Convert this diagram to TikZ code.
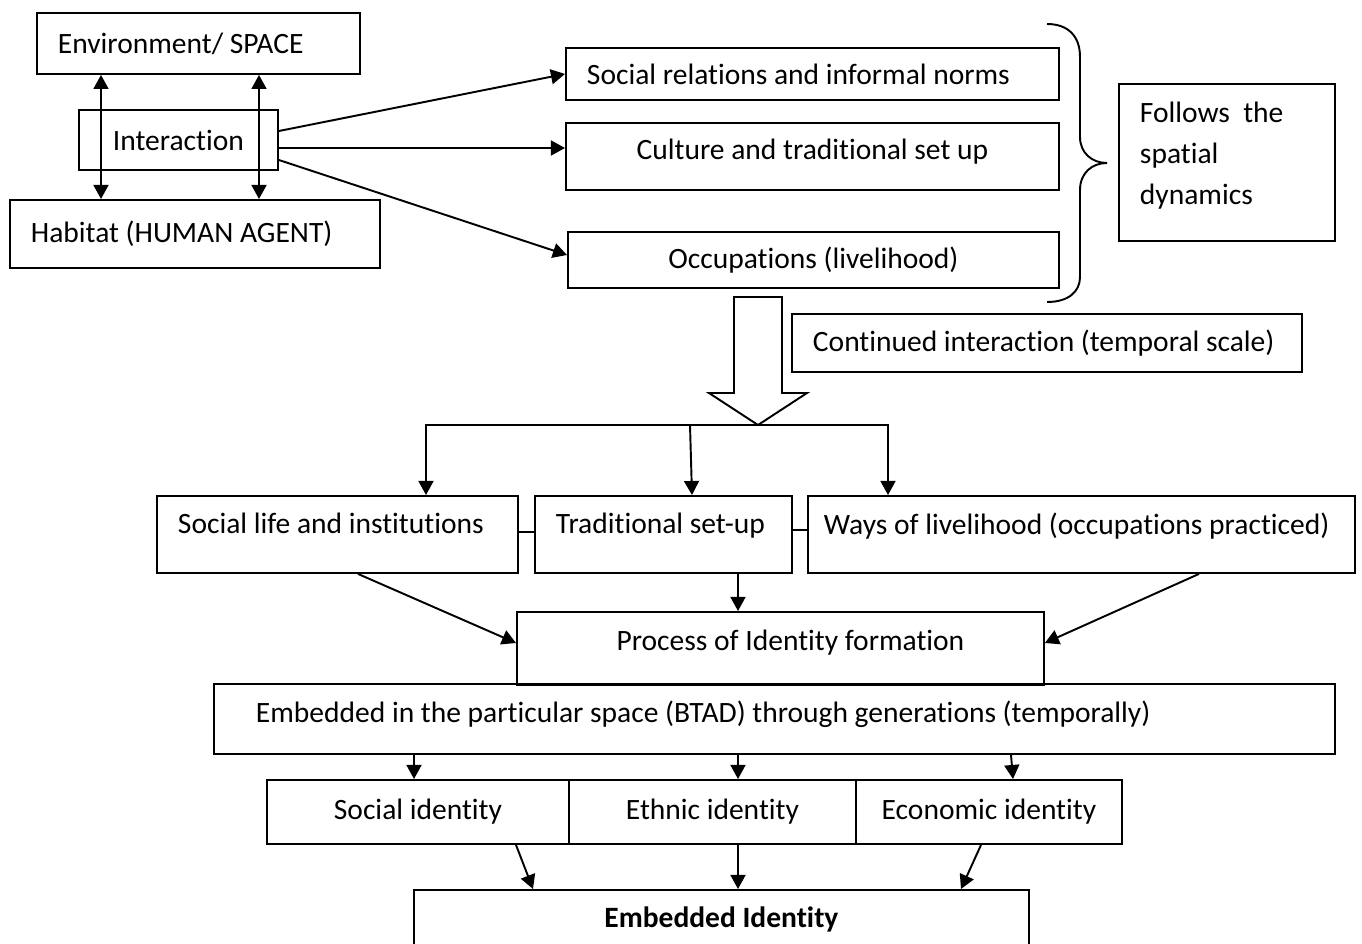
\documentclass[tikz,border=0pt]{standalone}
\usepackage{fontspec}
\setmainfont{Carlito}[Ligatures=NoCommon]
\usetikzlibrary{arrows.meta, calc}

\begin{document}
\begin{tikzpicture}[x=0.02cm, y=-0.02cm, line width=1.1pt,
  font=\fontsize{16.8}{23.2}\selectfont,
  box/.style={draw, rectangle, anchor=north west, inner xsep=0.42cm, inner ysep=0pt},
  arr/.style={-{Triangle[length=8pt, width=8.5pt]}},
  dblarr/.style={{Triangle[length=8pt, width=8.5pt]}-{Triangle[length=8pt, width=8.5pt]}}]
  \clip (0,0) rectangle (1362,943);

  % Space, interaction and the human agent
  \node[box, minimum width=6.46cm, minimum height=1.22cm, text width=5.62cm, align=flush left] (env) at (36,12) {Environment/ SPACE};
  \node[box, minimum width=3.98cm, minimum height=1.2cm] (inter) at (78,109) {Interaction};
  \node[box, minimum width=7.4cm, minimum height=1.36cm, text width=6.56cm, align=flush left] (hab) at (9,199) {Habitat (HUMAN AGENT)};
  \draw[dblarr] (env.south -| 101,0) -- (hab.north -| 101,0);
  \draw[dblarr] (env.south -| 259,0) -- (hab.north -| 259,0);

  % What the interaction gives
  \node[box, minimum width=9.86cm, minimum height=1.04cm, text width=9.02cm, align=flush left] (socrel) at (565,47) {Social relations and informal norms};
  \node[box, minimum width=9.86cm, minimum height=1.34cm, text depth=0.3cm] (cult) at (565,122) {Culture and traditional set up};
  \node[box, minimum width=9.82cm, minimum height=1.12cm] (occ) at (567,231) {Occupations (livelihood)};
  \draw[arr] (inter.east |- 0,131) -- (socrel.west);
  \draw[arr] (inter.east |- 0,148) -- (cult.west |- 0,148);
  \draw[arr] (inter.east |- 0,160) -- (occ.west |- 0,255);

  % Brace and its note
  \draw (1047,24) .. controls (1068,24) and (1080,36) .. (1080,57) -- (1080,137)
    .. controls (1080,153) and (1092,163) .. (1107,163)
    .. controls (1092,163) and (1080,173) .. (1080,190) -- (1080,277)
    .. controls (1080,292) and (1068,302) .. (1047,302);
  \node[box, minimum width=4.32cm, minimum height=3.14cm, text width=3.48cm, text depth=2cm, align=flush left] (follows) at (1118,83) {Follows\ \ the\\spatial\\dynamics};

  % Big arrow down
  \draw (734,297) -- (734,393) -- (709,393) -- (758,425) -- (807,393) -- (782,393) -- (782,297) -- cycle;
  \coordinate (tip) at (758,425);
  \node[box, minimum width=10.2cm, minimum height=1.16cm, text width=9.36cm, align=flush left] (cont) at (791,313) {Continued interaction (temporal scale)};

  % Second row
  \node[box, minimum width=7.22cm, minimum height=1.54cm, text width=6.38cm, text depth=0.45cm, align=flush left] (soclife) at (156,495) {Social life and institutions};
  \node[box, minimum width=5.14cm, minimum height=1.54cm, text width=4.3cm, text depth=0.45cm, align=flush left] (trad) at (534,495) {Traditional set-up};
  \node[box, minimum width=10.94cm, minimum height=1.54cm, inner xsep=0.32cm, text width=10.3cm, text depth=0.45cm, align=flush left] (ways) at (807,495) {Ways of livelihood (occupations practiced)};
  \draw[arr] (tip) -| (soclife.north -| 426,0);
  \draw[arr] (tip) -| (ways.north -| 888,0);
  \draw[arr] (tip -| 690,0) -- (trad.north -| 692,0);
  \draw (soclife.east |- 0,532) -- (trad.west |- 0,532);
  \draw (trad.east |- 0,530) -- (ways.west |- 0,530);

  % Identity formation
  \node[box, minimum width=10.54cm, minimum height=1.46cm, text depth=0.33cm] (proc) at (516,611) {\hspace*{0.4cm}Process of Identity formation};
  \draw[arr] (soclife.south -| 358,0) -- (proc.west |- 0,643);
  \draw[arr] (trad.south -| 738,0) -- (proc.north -| 738,0);
  \draw[arr] (ways.south -| 1199,0) -- (proc.east |- 0,643);
  \node[box, minimum width=22.42cm, minimum height=1.4cm, inner xsep=0.84cm, text width=20.74cm, text depth=0.3cm, align=flush left] (embed) at (213,683) {Embedded in the particular space (BTAD) through generations (temporally)};

  % Identities
  \node[box, minimum width=6.04cm, minimum height=1.28cm] (socid) at (266,779) {Social identity};
  \node[box, minimum width=5.74cm, minimum height=1.28cm] (ethid) at (568,779) {Ethnic identity};
  \node[box, minimum width=5.32cm, minimum height=1.28cm] (ecoid) at (855,779) {Economic identity};
  \draw[arr] (embed.south -| 414,0) -- (socid.north -| 414,0);
  \draw[arr] (embed.south -| 738,0) -- (ethid.north -| 738,0);
  \draw[arr] (embed.south -| 1011,0) -- (ecoid.north -| 1013,0);

  \node[box, minimum width=12.3cm, minimum height=1.16cm] (embid) at (413,889) {\textbf{Embedded Identity}};
  \draw[arr] (socid.south -| 516,0) -- (embid.north -| 533,0);
  \draw[arr] (ethid.south -| 738,0) -- (embid.north -| 738,0);
  \draw[arr] (ecoid.south -| 981,0) -- (embid.north -| 961,0);
\end{tikzpicture}
\end{document}
